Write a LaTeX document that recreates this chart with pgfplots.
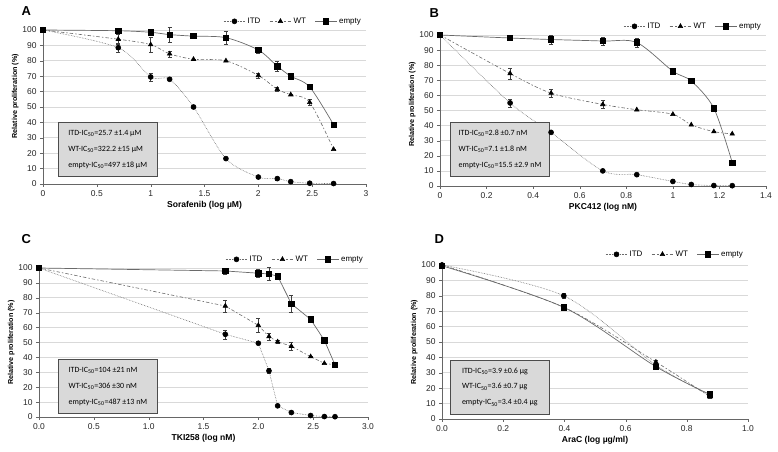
\documentclass[border=0pt]{standalone}
\usepackage{pgfplots}
\pgfplotsset{compat=1.18}
\usepackage{fontspec}
\setmainfont{Liberation Sans}
\newfontfamily\boxfont{Carlito}
\definecolor{boxgray}{HTML}{D9D9D9}
\definecolor{linegray}{HTML}{6A6A6A}
\pgfplotsset{
  panel/.style={
    scale only axis,
    ymin=0, ymax=100, ytick={0,10,...,100},
    axis lines*=left,
    axis line style={black!60},
    ymajorgrids, grid style={black!15, line width=0.6pt},
    tick style={black!60}, tick align=outside, major tick length=3bp,
    /pgf/number format/assume math mode=true,
    tick label style={font=\fontsize{8.5}{10}\selectfont, text=black!85},
    xlabel style={font=\bfseries\fontsize{8.6}{10}\selectfont, yshift=2bp},
    ylabel style={font=\bfseries\fontsize{7.2}{9}\selectfont, yshift=-3bp},
    ylabel={Relative proliferation (\%)},
    legend style={draw=none, fill=none, at={(1,1)}, anchor=south east,
      yshift=0bp, legend columns=3,
      font=\fontsize{8}{10}\selectfont,
      /tikz/every even column/.append style={column sep=7bp}},
    legend image code/.code={\draw[mark repeat=2,mark phase=2] plot coordinates {(0cm,0cm)(0.38cm,0cm)(0.76cm,0cm)};},
    clip=false,
  },
  eb/.style={
    error bars/y dir=both, error bars/y explicit,
    error bars/error bar style={black!75, solid, line width=0.5pt},
    error bars/error mark options={rotate=90, mark size=2pt, black!75, solid}},
  itd/.style={eb, linegray, line width=0.6pt, densely dotted, mark=*, mark size=2.5pt,
    mark options={solid, fill=black, draw=black}},
  wt/.style={eb, linegray, line width=0.6pt, dash pattern=on 3.5pt off 2pt on 1.5pt off 2pt, mark=triangle*, mark size=2.6pt,
    mark options={solid, fill=black, draw=black}},
  empt/.style={eb, linegray, line width=0.7pt, solid, mark=square*, mark size=2.7pt,
    mark options={solid, fill=black, draw=black}},
}
\newcommand{\icbox}[4]{\node[draw=black!70, fill=boxgray, line width=0.8pt, anchor=south west,
   minimum width=99bp, minimum height=54bp, inner sep=4bp, align=left,
   font=\boxfont\fontsize{8}{16}\selectfont] at (#1) {#2\\#3\\#4};}
\begin{document}
\begin{tikzpicture}[x=1bp,y=1bp]
\path[use as bounding box] (0,0) rectangle (778,452);

% ---------------- Panel A
\node[font=\bfseries\fontsize{13}{14}\selectfont, anchor=north west] at (18,449) {A};
\begin{axis}[panel, at={(43bp,268bp)}, anchor=south west, width=323bp, height=154bp,
  xmin=0, xmax=3, xtick={0,0.5,...,3}, xlabel={Sorafenib (log µM)},
  ylabel style={at={(ticklabel cs:0.57)}},
  legend style={yshift=1bp}]
\addplot+[itd, smooth, tension=0.5] coordinates {
 (0,100) +- (0,0) (0.699,88.5) +- (0,3) (1,69.5) +- (0,2.5) (1.176,68) +- (0,0) (1.398,50) +- (0,0)
 (1.699,16.5) +- (0,0) (2,4.5) +- (0,0) (2.176,3.5) +- (0,0.8) (2.301,1.5) +- (0,0) (2.477,0.5) +- (0,0) (2.699,0.3) +- (0,0)};
\addlegendentry{ITD}
\addplot+[wt, smooth, tension=0.5] coordinates {
 (0,100) +- (0,0) (0.699,94) +- (0,3) (1,90.5) +- (0,5) (1.176,84.5) +- (0,2) (1.398,81) +- (0,0)
 (1.699,80) +- (0,0) (2,70.5) +- (0,1.5) (2.176,61.5) +- (0,1.5) (2.301,58) +- (0,0) (2.477,53) +- (0,2) (2.699,22.5) +- (0,0)};
\addlegendentry{WT}
\addplot+[empt, smooth, tension=0.5] coordinates {
 (0,100) +- (0,0) (0.699,99.5) +- (0,1) (1,98.5) +- (0,1.5) (1.176,97) +- (0,5) (1.398,96) +- (0,0)
 (1.699,95) +- (0,4) (2,87) +- (0,2) (2.176,76.5) +- (0,3.5) (2.301,70) +- (0,1.5) (2.477,63) +- (0,1.5) (2.699,38.5) +- (0,0)};
\addlegendentry{empty}
\icbox{rel axis cs:0.046,0.045}{ITD-IC\textsubscript{50}=25.7 ±1.4 µM}{WT-IC\textsubscript{50}=322.2 ±15 µM}{empty-IC\textsubscript{50}=497 ±18 µM}
\end{axis}

% ---------------- Panel B
\node[font=\bfseries\fontsize{13}{14}\selectfont, anchor=north west] at (426,447) {B};
\begin{axis}[panel, at={(440bp,266bp)}, anchor=south west, width=326bp, height=151bp,
  xmin=0, xmax=1.4, xtick={0,0.2,...,1.4}, xlabel={PKC412 (log nM)},
  xticklabel style={/pgf/number format/.cd, fixed, precision=1},
  ylabel style={at={(ticklabel cs:0.54)}},
  legend style={yshift=1bp}]
\addplot+[itd, smooth, tension=0.5] coordinates {
 (0,100) +- (0,0) (0.301,55) +- (0,2.5) (0.477,35.5) +- (0,0) (0.699,10) +- (0,0) (0.845,7.5) +- (0,0)
 (1,3) +- (0,0) (1.079,1) +- (0,0) (1.176,0.3) +- (0,0) (1.255,0.2) +- (0,0)};
\addlegendentry{ITD}
\addplot+[wt, smooth, tension=0.5] coordinates {
 (0,100) +- (0,0) (0.301,74.5) +- (0,3.5) (0.477,61.5) +- (0,2.5) (0.699,54) +- (0,2.5) (0.845,50.5) +- (0,0)
 (1,47.5) +- (0,0) (1.079,40.5) +- (0,0) (1.176,36) +- (0,0) (1.255,34.5) +- (0,0)};
\addlegendentry{WT}
\addplot+[empt, smooth, tension=0.5] coordinates {
 (0,100) +- (0,0) (0.301,98) +- (0,1.5) (0.477,97) +- (0,3) (0.699,96) +- (0,2.5) (0.845,95) +- (0,3)
 (1,76) +- (0,1.5) (1.079,69.5) +- (0,0) (1.176,51.5) +- (0,1.5) (1.255,15.5) +- (0,0)};
\addlegendentry{empty}
\icbox{rel axis cs:0.031,0.06}{ITD-IC\textsubscript{50}=2.8 ±0.7 nM}{WT-IC\textsubscript{50}=7.1 ±1.8 nM}{empty-IC\textsubscript{50}=15.5 ±2.9 nM}
\end{axis}

% ---------------- Panel C
\node[font=\bfseries\fontsize{13}{14}\selectfont, anchor=north west] at (18,221) {C};
\begin{axis}[panel, at={(39bp,35bp)}, anchor=south west, width=329bp, height=149bp,
  xmin=0, xmax=3, xtick={0,0.5,...,3}, xlabel={TKI258 (log nM)},
  xticklabel style={/pgf/number format/.cd, fixed, fixed zerofill, precision=1},
  legend style={yshift=1bp}]
\addplot+[itd] coordinates {
 (0,100) +- (0,0) (1.699,55.5) +- (0,3) (2,49.5) +- (0,0) (2.097,31) +- (0,1.5) (2.176,7.5) +- (0,0)
 (2.301,3) +- (0,0) (2.477,1) +- (0,0) (2.602,0.3) +- (0,0) (2.699,0.2) +- (0,0)};
\addlegendentry{ITD}
\addplot+[wt] coordinates {
 (0,100) +- (0,0) (1.699,74.5) +- (0,4) (2,61.5) +- (0,4.5) (2.097,54) +- (0,2.5) (2.176,50.5) +- (0,1)
 (2.301,47.5) +- (0,2.5) (2.477,40.5) +- (0,0) (2.602,36) +- (0,0) (2.699,35) +- (0,0)};
\addlegendentry{WT}
\addplot+[empt] coordinates {
 (0,100) +- (0,0) (1.699,98) +- (0,2) (2,96.5) +- (0,3) (2.097,96) +- (0,4.5) (2.176,94.5) +- (0,2)
 (2.301,76) +- (0,6) (2.477,65.5) +- (0,0) (2.602,51.5) +- (0,0) (2.699,35) +- (0,1.5)};
\addlegendentry{empty}
\icbox{rel axis cs:0.058,0.02}{ITD-IC\textsubscript{50}=104 ±21 nM}{WT-IC\textsubscript{50}=306 ±30 nM}{empty-IC\textsubscript{50}=487 ±13 nM}
\end{axis}

% ---------------- Panel D
\node[font=\bfseries\fontsize{13}{14}\selectfont, anchor=north west] at (431,221) {D};
\begin{axis}[panel, at={(442bp,33bp)}, anchor=south west, width=306bp, height=154bp,
  xmin=0, xmax=1, xtick={0,0.2,...,1.0}, xlabel={AraC (log µg/ml)},
  xticklabel style={/pgf/number format/.cd, fixed, fixed zerofill, precision=1},
  legend style={yshift=3bp}]
\addplot+[itd, smooth, tension=0.5] coordinates {
 (0,100) +- (0,0) (0.398,80) +- (0,1.5) (0.699,35) +- (0,0) (0.875,15.5) +- (0,0)};
\addlegendentry{ITD}
\addplot+[wt, smooth, tension=0.5] coordinates {
 (0,100) +- (0,0) (0.398,72.5) +- (0,2) (0.699,37) +- (0,1.5) (0.875,14.5) +- (0,1)};
\addlegendentry{WT}
\addplot+[empt, smooth, tension=0.5] coordinates {
 (0,99.5) +- (0,1) (0.398,72.5) +- (0,0) (0.699,34) +- (0,1.5) (0.875,16) +- (0,1.5)};
\addlegendentry{empty}
\icbox{rel axis cs:0.026,0.03}{ITD-IC\textsubscript{50}=3.9 ±0.6 µg}{WT-IC\textsubscript{50}=3.6 ±0.7 µg}{empty-IC\textsubscript{50}=3.4 ±0.4 µg}
\end{axis}
\end{tikzpicture}
\end{document}
